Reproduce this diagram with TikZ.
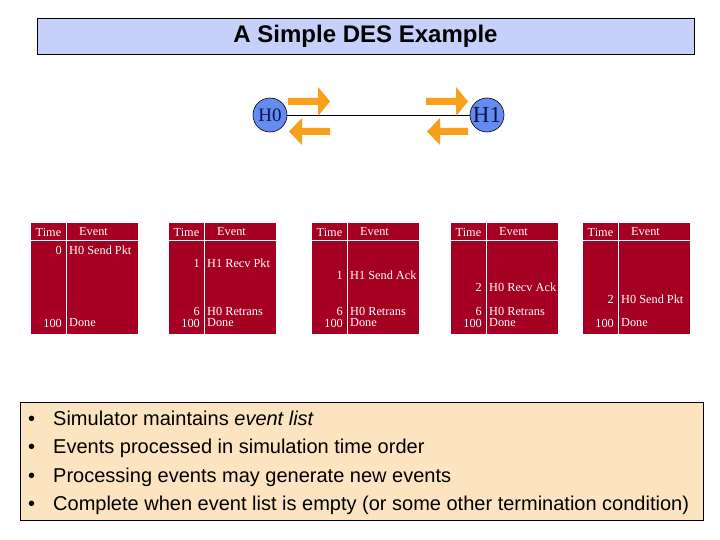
\documentclass[tikz,border=0pt]{standalone}
\usepackage{fontspec}
\newfontfamily\arialf{Liberation Sans}
\newfontfamily\tmsf{Liberation Serif}
\definecolor{titlebg}{RGB}{198,208,250}
\definecolor{tblred}{RGB}{165,0,33}
\definecolor{hostblue}{RGB}{100,140,240}
\definecolor{hostnavy}{RGB}{10,20,70}
\definecolor{arrorange}{RGB}{246,160,28}
\definecolor{notebg}{RGB}{252,228,192}
\tikzset{
  cell/.style={text=white,font=\tmsf\fontsize{12.3}{14}\selectfont,inner sep=0pt},
  hostnode/.style={circle,draw=black,line width=0.6pt,fill=hostblue,minimum size=34pt,inner sep=0pt,text=hostnavy},
  blockarrow/.style={fill=arrorange,draw=none},
  bullettext/.style={font=\arialf\fontsize{20}{22}\selectfont,anchor=base west,inner sep=0pt},
}
\newcommand\evtbl[2]{%
  \fill[tblred] (#1,223) rectangle (#1+107,334);
  \draw[white,line width=0.9pt] (#1+35,223) -- (#1+35,334);
  \draw[white,line width=0.9pt] (#1,240) -- (#1+107,240);
  \node[cell] (#2t) at (#1+17.5,232) {Time};
  \node[cell,anchor=west] (#2e) at (#1+48,232) {Event};
}
\newcommand\evrow[5]{%
  \node[cell,anchor=east] (#5a) at (#1+31,#2) {#3};
  \node[cell,anchor=west] (#5b) at (#1+38,#2) {#4};
}
\newcommand\rarrow[3]{% x0, yc, name
  \fill[blockarrow] (#1,#2-3.5) -- (#1+30,#2-3.5) -- (#1+30,#2-14.5) -- (#1+42,#2) -- (#1+30,#2+14.5) -- (#1+30,#2+3.5) -- (#1,#2+3.5) -- cycle;
  \coordinate (#3) at (#1,#2);
}
\newcommand\larrow[3]{% tip x, yc, name
  \fill[blockarrow] (#1,#2) -- (#1+13,#2-13.5) -- (#1+13,#2-3.5) -- (#1+41,#2-3.5) -- (#1+41,#2+3.5) -- (#1+13,#2+3.5) -- (#1+13,#2+13.5) -- cycle;
  \coordinate (#3) at (#1,#2);
}
\begin{document}
\begin{tikzpicture}[x=1pt,y=-1pt]
\useasboundingbox (0,0) rectangle (720,540);
% title
\node[draw=black,line width=0.8pt,fill=titlebg,minimum width=657pt,minimum height=36pt,inner sep=0pt,
  font=\arialf\bfseries\fontsize{24}{26}\selectfont] (title) at (365.5,36) {A Simple DES Example};
% hosts
\node[hostnode,font=\tmsf\fontsize{19}{20}\selectfont] (H0) at (270,115) {H0};
\node[hostnode,font=\tmsf\fontsize{23}{24}\selectfont] (H1) at (487,115) {H1};
\draw[black,line width=0.7pt] (H0) -- (H1);
\rarrow{288}{101.5}{a1}
\larrow{289}{131.5}{a2}
\rarrow{426}{101.5}{a3}
\larrow{427}{131.5}{a4}
% tables
\evtbl{31}{ta}
\evrow{31}{250}{0}{H0 Send Pkt}{ta1}
\evrow{31}{323}{100}{Done}{ta2}
\evtbl{169}{tb}
\evrow{169}{263}{1}{H1 Recv Pkt}{tb1}
\evrow{169}{311}{6}{H0 Retrans}{tb2}
\evrow{169}{323}{100}{Done}{tb3}
\evtbl{312}{tc}
\evrow{312}{275}{1}{H1 Send Ack}{tc1}
\evrow{312}{311}{6}{H0 Retrans}{tc2}
\evrow{312}{323}{100}{Done}{tc3}
\evtbl{451}{td}
\evrow{451}{287}{2}{H0 Recv Ack}{td1}
\evrow{451}{311}{6}{H0 Retrans}{td2}
\evrow{451}{323}{100}{Done}{td3}
\evtbl{583}{te}
\evrow{583}{299}{2}{H0 Send Pkt}{te1}
\evrow{583}{323}{100}{Done}{te2}
% notes
\node[draw=black,line width=0.8pt,fill=notebg,minimum width=683pt,minimum height=118pt,inner sep=0pt] (notes) at (361.5,461) {};
\foreach \yy/\tt [count=\i] in {425/{Simulator maintains \textit{event list}},
  453/{Events processed in simulation time order},
  482/{Processing events may generate new events},
  510/{Complete when event list is empty (or some other termination condition)}}{
  \node[bullettext] (b\i) at (28,\yy) {\textbullet};
  \node[bullettext] (t\i) at (53,\yy) {\tt};
}
\end{tikzpicture}
\end{document}
